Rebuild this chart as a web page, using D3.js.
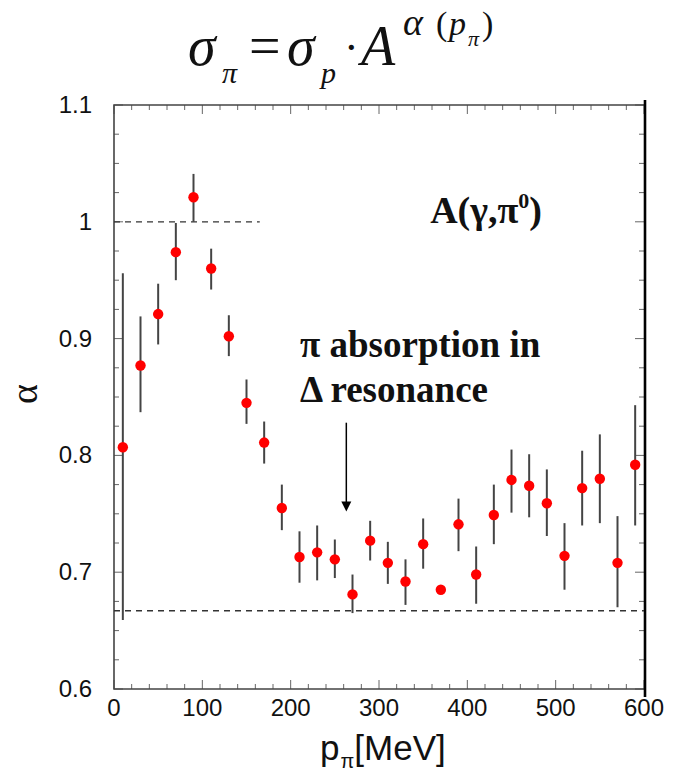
<!DOCTYPE html>
<html><head><meta charset="utf-8">
<script src="https://cdn.jsdelivr.net/npm/d3@7"></script>
<style>body{margin:0;background:#fff}svg{display:block}</style>
</head><body>
<svg id="c" width="673" height="778"></svg>
<script>
// Data
const pValues = [10,30,50,70,90,110,130,150,170,190,210,230,250,270,290,310,330,350,370,390,410,430,450,470,490,510,530,550,570,590];
const alphaValues = [0.807,0.877,0.921,0.974,1.021,0.960,0.902,0.845,0.811,0.755,0.713,0.717,0.711,0.681,0.727,0.708,0.692,0.724,0.685,0.741,0.698,0.749,0.779,0.774,0.759,0.714,0.772,0.780,0.708,0.792];
const errHigh = [0.956,0.919,0.947,0.999,1.041,0.977,0.920,0.865,0.829,0.775,0.735,0.740,0.728,0.698,0.744,0.726,0.711,0.746,0.685,0.763,0.722,0.775,0.805,0.801,0.788,0.742,0.804,0.818,0.748,0.843];
const errLow  = [0.659,0.837,0.895,0.950,1.000,0.942,0.885,0.827,0.793,0.736,0.691,0.693,0.695,0.665,0.710,0.690,0.672,0.703,0.685,0.718,0.673,0.724,0.751,0.747,0.731,0.685,0.740,0.742,0.670,0.740];
const xTicks = [0,100,200,300,400,500,600];
const yTicks = [0.6,0.7,0.8,0.9,1.0,1.1];
const yTickLabels = ["0.6","0.7","0.8","0.9","1","1.1"];
const refLineY = [1.0, 0.667];
const refLineXEnd = [165, 600];
const arrowX = 263;
const arrowAlpha = [0.828, 0.752];

const svg = d3.select("#c");
const x = d3.scaleLinear().domain([0,600]).range([114,644]);
const y = d3.scaleLinear().domain([0.6,1.1]).range([689,105]);

// minor ticks
const xMinor = d3.range(0,601,20);
const yMinor = d3.range(0,21).map(i=>+(0.6+i*0.025).toFixed(3));
const isMajX = v => v%100===0;
const isMajY = v => Math.abs(v*10-Math.round(v*10))<1e-6;

const g = svg.append("g");
g.selectAll(".xb").data(xMinor).join("line")
  .attr("x1",d=>x(d)).attr("x2",d=>x(d))
  .attr("y1",y(0.6)).attr("y2",d=>y(0.6)-(isMajX(d)?9:5))
  .attr("stroke","#666").attr("stroke-width",1);
g.selectAll(".xt").data(xMinor).join("line")
  .attr("x1",d=>x(d)).attr("x2",d=>x(d))
  .attr("y1",y(1.1)).attr("y2",d=>y(1.1)+(isMajX(d)?9:5))
  .attr("stroke","#666").attr("stroke-width",1);
g.selectAll(".yl").data(yMinor).join("line")
  .attr("x1",x(0)).attr("x2",d=>x(0)+(isMajY(d)?9:5))
  .attr("y1",d=>y(d)).attr("y2",d=>y(d))
  .attr("stroke","#666").attr("stroke-width",1);
g.selectAll(".yr").data(yMinor).join("line")
  .attr("x1",x(600)).attr("x2",d=>x(600)-(isMajY(d)?9:5))
  .attr("y1",d=>y(d)).attr("y2",d=>y(d))
  .attr("stroke","#666").attr("stroke-width",1);

// frame
g.append("path")
  .attr("d",`M${x(600)},${y(1.1)}H${x(0)}V${y(0.6)}H${x(600)}`)
  .attr("fill","none").attr("stroke","#444").attr("stroke-width",1.6);
g.append("line").attr("x1",x(600)+1).attr("x2",x(600)+1)
  .attr("y1",y(1.1)-5).attr("y2",y(0.6)+8)
  .attr("stroke","#000").attr("stroke-width",2.6);

const sans = "Liberation Sans, Arial, sans-serif";
const serif = "Liberation Serif, Times New Roman, serif";

// tick labels
svg.selectAll(".xl").data(xTicks).join("text")
  .attr("x",d=>x(d)).attr("y",716)
  .attr("text-anchor","middle")
  .attr("font-family",sans).attr("font-size",24).attr("fill","#111")
  .text(d=>d);
svg.selectAll(".yl2").data(yTicks).join("text")
  .attr("x",92).attr("y",d=>y(d)+8)
  .attr("text-anchor","end")
  .attr("font-family",sans).attr("font-size",24).attr("fill","#111")
  .text((d,i)=>yTickLabels[i]);

// axis titles
const xt = svg.append("text").attr("x",320).attr("y",760)
  .attr("font-family",sans).attr("font-size",35).attr("fill","#111");
xt.append("tspan").text("p");
xt.append("tspan").attr("font-size",20).attr("dy",8).attr("dx",1).text("π");
xt.append("tspan").attr("dy",-8).text("[MeV]");

svg.append("text").attr("transform","translate(37,394) rotate(-90)")
  .attr("text-anchor","middle")
  .attr("font-family",serif).attr("font-size",38).attr("fill","#111").text("α");

// reference dashed lines
svg.selectAll(".ref").data(refLineY).join("line")
  .attr("x1",x(0)).attr("x2",(d,i)=>x(refLineXEnd[i]))
  .attr("y1",d=>y(d)).attr("y2",d=>y(d))
  .attr("stroke","#333").attr("stroke-width",1.3).attr("stroke-dasharray","6,5");

// error bars
svg.selectAll(".err").data(pValues).join("line")
  .attr("x1",d=>x(d)).attr("x2",d=>x(d))
  .attr("y1",(d,i)=>y(errHigh[i])).attr("y2",(d,i)=>y(errLow[i]))
  .attr("stroke","#444").attr("stroke-width",2);

// points
svg.selectAll(".pt").data(pValues).join("circle")
  .attr("cx",d=>x(d)).attr("cy",(d,i)=>y(alphaValues[i]))
  .attr("r",5.2).attr("fill","#f00");

// arrow
svg.append("line").attr("x1",x(arrowX)).attr("x2",x(arrowX))
  .attr("y1",y(arrowAlpha[0])).attr("y2",y(arrowAlpha[1])-8)
  .attr("stroke","#000").attr("stroke-width",1.5);
svg.append("path")
  .attr("d",`M${x(arrowX)-5},${y(arrowAlpha[1])-10}L${x(arrowX)+5},${y(arrowAlpha[1])-10}L${x(arrowX)},${y(arrowAlpha[1])}Z`)
  .attr("fill","#000");

// annotations
const a1 = svg.append("text").attr("x",542).attr("y",223).attr("text-anchor","end")
  .attr("font-family",serif).attr("font-weight","bold").attr("font-size",38).attr("fill","#111");
a1.append("tspan").text("A(γ,π");
a1.append("tspan").attr("font-size",22).attr("dy",-15).text("0");
a1.append("tspan").attr("dy",15).text(")");

svg.append("text").attr("x",300).attr("y",357)
  .attr("font-family",serif).attr("font-weight","bold").attr("font-size",37).attr("fill","#111")
  .text("π absorption in");
svg.append("text").attr("x",300).attr("y",402)
  .attr("font-family",serif).attr("font-weight","bold").attr("font-size",37).attr("fill","#111")
  .text("Δ resonance");

// title formula (each piece placed explicitly)
const t = svg.append("text").attr("y",65)
  .attr("font-family",serif).attr("font-style","italic").attr("font-size",56).attr("fill","#111");
t.append("tspan").attr("x",188).attr("y",65).text("σ");
t.append("tspan").attr("x",222).attr("y",83).attr("font-size",30).text("π");
t.append("tspan").attr("x",249).attr("y",65).attr("font-style","normal").text("=");
t.append("tspan").attr("x",287).attr("y",65).text("σ");
t.append("tspan").attr("x",321).attr("y",83).attr("font-size",30).text("p");
t.append("tspan").attr("x",344).attr("y",62).attr("font-size",44).attr("font-style","normal").text("·");
t.append("tspan").attr("x",361).attr("y",65).text("A");
t.append("tspan").attr("x",403).attr("y",35).attr("font-size",38).text("α");
t.append("tspan").attr("x",436).attr("y",35).attr("font-size",34).attr("font-style","normal").text("(");
t.append("tspan").attr("x",449).attr("y",35).attr("font-size",34).text("p");
t.append("tspan").attr("x",468).attr("y",46).attr("font-size",22).text("π");
t.append("tspan").attr("x",482).attr("y",35).attr("font-size",34).attr("font-style","normal").text(")");
</script>
</body></html>
